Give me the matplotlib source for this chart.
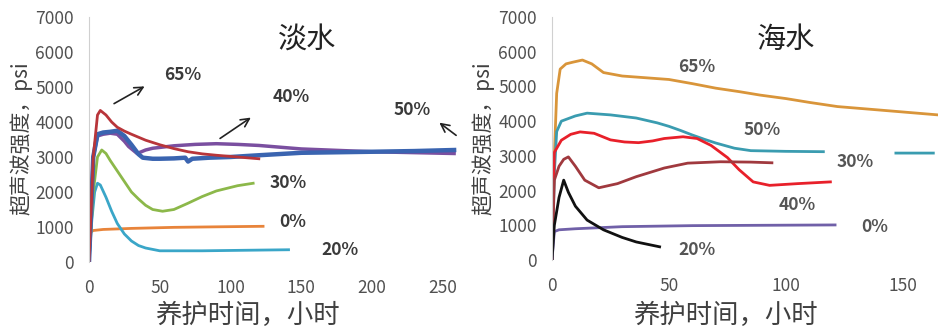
import numpy as np
import matplotlib
matplotlib.use('Agg')
import matplotlib.pyplot as plt

plt.rcParams['font.family'] = ['Noto Sans CJK SC', 'DejaVu Sans']

# 淡水 (fresh water) curves: hours, psi
fw_0_t = [0, 1, 3, 10, 30, 60, 90, 123]
fw_0_v = [0, 850, 900, 930, 960, 990, 1005, 1020]
fw_20_t = [0, 2, 4, 6, 8, 12, 16, 20, 25, 30, 35, 40, 50, 80, 110, 141]
fw_20_v = [0, 1200, 2000, 2250, 2200, 1850, 1450, 1100, 800, 600, 470, 400, 320, 320, 335, 350]
fw_30_t = [0, 3, 6, 9, 12, 15, 20, 25, 30, 35, 40, 45, 52, 60, 70, 80, 90, 105, 116]
fw_30_v = [0, 2000, 3000, 3200, 3100, 2900, 2600, 2300, 2000, 1800, 1620, 1500, 1450, 1500, 1680, 1870, 2030, 2180, 2250]
fw_65_t = [0, 3, 6, 8, 12, 16, 20, 25, 30, 40, 50, 60, 70, 80, 90, 105, 120]
fw_65_v = [0, 3000, 4200, 4330, 4200, 4000, 3850, 3740, 3650, 3480, 3350, 3240, 3150, 3090, 3050, 3000, 2950]
fw_40_t = [0, 3, 6, 10, 15, 20, 25, 28, 34, 40, 45, 60, 75, 90, 105, 120, 150, 200, 258]
fw_40_v = [0, 3000, 3600, 3650, 3680, 3650, 3450, 3300, 3100, 3200, 3250, 3320, 3360, 3380, 3360, 3330, 3230, 3150, 3100]
fw_50_t = [0, 3, 6, 10, 15, 20, 25, 30, 35, 38, 45, 50, 60, 68, 70, 73, 85, 100, 120, 150, 200, 230, 258]
fw_50_v = [0, 3000, 3650, 3700, 3720, 3750, 3600, 3350, 3080, 2980, 2950, 2950, 2960, 2980, 2870, 2950, 2980, 3000, 3050, 3120, 3150, 3170, 3200]

# 海水 (sea water) curves
sw_65_t = [0, 1, 2, 3.5, 6, 9, 13, 17, 22, 30, 40, 50, 60, 70, 80, 89, 100, 110, 122, 140, 165]
sw_65_v = [0, 3000, 4800, 5500, 5650, 5700, 5760, 5650, 5400, 5300, 5250, 5200, 5080, 4950, 4850, 4750, 4650, 4540, 4420, 4320, 4180]
sw_50_t = [0, 1, 2, 4, 10, 15, 25, 36, 45, 50, 55, 60, 65, 70, 78, 85, 100, 116, np.nan, 147, 163]
sw_50_v = [0, 2500, 3700, 4000, 4150, 4230, 4180, 4090, 3950, 3850, 3730, 3600, 3480, 3370, 3220, 3150, 3130, 3120, np.nan, 3080, 3080]
sw_40_t = [0, 1, 4, 8, 12, 18, 25, 31, 37, 43, 48, 56, 62, 68, 75, 80, 86, 93, 105, 119]
sw_40_v = [0, 3100, 3450, 3620, 3690, 3650, 3460, 3400, 3380, 3430, 3500, 3550, 3500, 3300, 2950, 2600, 2250, 2150, 2200, 2250]
sw_30_t = [0, 1, 3, 5, 7, 10, 14, 20, 28, 36, 48, 58, 72, 85, 94]
sw_30_v = [0, 2300, 2700, 2900, 2970, 2700, 2300, 2080, 2200, 2400, 2650, 2790, 2830, 2820, 2800]
sw_20_t = [0, 1, 3, 5, 7, 10, 15, 22, 30, 36, 46]
sw_20_v = [0, 1000, 1800, 2300, 1950, 1550, 1150, 870, 650, 520, 380]
sw_0_t = [0, 1, 3, 10, 30, 60, 90, 121]
sw_0_v = [0, 820, 870, 900, 960, 990, 1000, 1010]

fig = plt.figure(figsize=(9.38, 3.3), dpi=100)
ax1 = fig.add_axes([89/938, 1-262/330, 375/938, 245/330])
ax2 = fig.add_axes([552/938, 1-260/330, 386/938, 243/330])

ax1.plot(fw_0_t, fw_0_v, color='#e8843a', lw=2.0)
ax1.plot(fw_20_t, fw_20_v, color='#3aa6c8', lw=2.0)
ax1.plot(fw_30_t, fw_30_v, color='#8cb84a', lw=2.0)
ax1.plot(fw_40_t, fw_40_v, color='#7a4fa0', lw=2.5)
ax1.plot(fw_50_t, fw_50_v, color='#3a64b0', lw=3.2)
ax1.plot(fw_65_t, fw_65_v, color='#b8353a', lw=2.0)

ax2.plot(sw_65_t, sw_65_v, color='#d9953a', lw=2.0)
ax2.plot(sw_50_t, sw_50_v, color='#3a9cb0', lw=2.0)
ax2.plot(sw_40_t, sw_40_v, color='#e8202a', lw=2.0)
ax2.plot(sw_30_t, sw_30_v, color='#a0393e', lw=2.0)
ax2.plot(sw_0_t, sw_0_v, color='#7060a8', lw=2.0)
ax2.plot(sw_20_t, sw_20_v, color='#111111', lw=2.0)

for ax, xmax, xt in [(ax1, 265, [0, 50, 100, 150, 200, 250]), (ax2, 165, [0, 50, 100, 150])]:
    ax.set_xlim(0, xmax)
    ax.set_ylim(0, 7000)
    ax.set_xticks(xt)
    ax.set_yticks(range(0, 7001, 1000))
    for s in ['top', 'right', 'bottom']:
        ax.spines[s].set_visible(False)
    ax.spines['left'].set_color('#d0d0d0')
    ax.tick_params(length=0, labelsize=12.5, labelcolor='#505050')
    ax.tick_params(axis='y', pad=11)
    ax.tick_params(axis='x', pad=12)

# 曲线标注
lab = dict(fontsize=12.5, fontweight='bold', color='#3a3a3a', ha='center', va='center')
ax1.text(66, 5340, '65%', **lab)
ax1.text(143, 4710, '40%', **lab)
ax1.text(228, 4343, '50%', **lab)
ax1.text(141, 2257, '30%', **lab)
ax1.text(144, 1143, '0%', **lab)
ax1.text(177, 343, '20%', **lab)

arr = dict(arrowstyle='->', color='#222222', lw=1.2, mutation_scale=15)
ax1.annotate('', xy=(41, 5057), xytext=(16, 4486), arrowprops=arr)
ax1.annotate('', xy=(116, 4171), xytext=(91, 3486), arrowprops=arr)
ax1.annotate('', xy=(246, 4029), xytext=(261, 3571), arrowprops=arr, annotation_clip=False)

lab2 = dict(fontsize=12.5, fontweight='bold', color='#555555', ha='center', va='center')
ax2.text(62, 5560, '65%', **lab2)
ax2.text(90, 3750, '50%', **lab2)
ax2.text(129.5, 2830, '30%', **lab2)
ax2.text(104.7, 1585, '40%', **lab2)
ax2.text(138, 950, '0%', **lab2)
ax2.text(62, 290, '20%', **lab2)

# 标题与坐标轴标题
fig.text(307/938, 1-40/330, '淡水', fontsize=21, color='#222222', ha='center', va='center')
fig.text(786/938, 1-40/330, '海水', fontsize=21, color='#222222', ha='center', va='center')
fig.text(247/938, 1-315/330, '养护时间，小时', fontsize=19, color='#404040', ha='center', va='center')
fig.text(725/938, 1-315/330, '养护时间，小时', fontsize=19, color='#404040', ha='center', va='center')
fig.text(21/938, 1-138/330, '超声波强度，psi', fontsize=15, color='#404040', ha='center', va='center', rotation=90)
fig.text(483/938, 1-138/330, '超声波强度，psi', fontsize=15, color='#404040', ha='center', va='center', rotation=90)

plt.savefig('out.png', dpi=100)
